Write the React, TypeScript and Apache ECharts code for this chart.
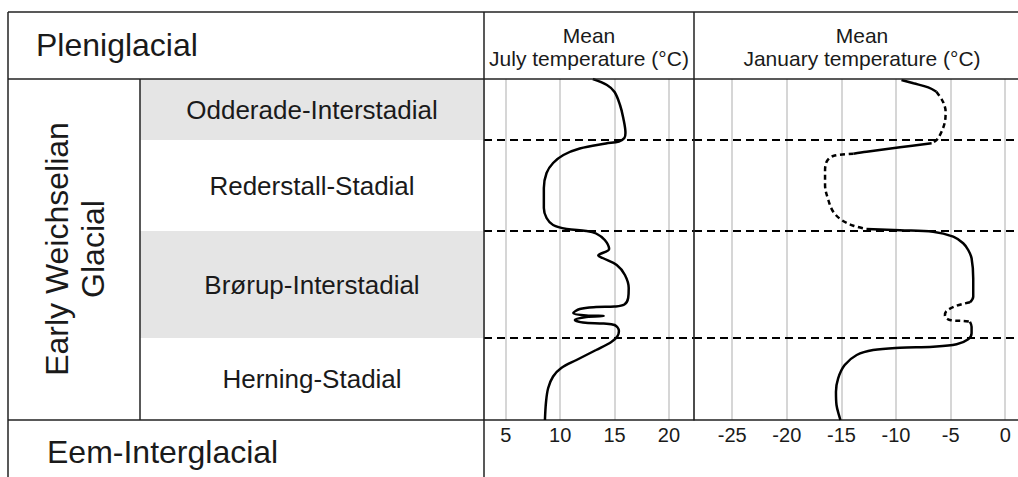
import React, { useEffect, useRef } from "react";
import * as echarts from "echarts";

const FONT = '"Liberation Sans", Arial, Helvetica, sans-serif';

// Relative stratigraphic height: 0 = base of the Early Weichselian, 341 = top
const heightRange = [0, 341];
const stageNames = ["Herning-Stadial", "Brørup-Interstadial", "Rederstall-Stadial", "Odderade-Interstadial"];
const stageBounds = [0, 82, 189, 280, 341];
const stageShaded = [false, true, false, true];
const boundaryLines = [82, 189, 280];

const periodTop = "Pleniglacial";
const periodMiddle = "Early Weichselian\nGlacial";
const periodBottom = "Eem-Interglacial";

const julyTitle = "Mean\nJuly temperature (°C)";
const januaryTitle = "Mean\nJanuary temperature (°C)";
const julyRange = [3, 22.3];
// the January panel runs past the right edge of the page
const januaryRange = [-28.5, 1.72];

// [temperature °C, relative height]
const julyCurve: [number, number][] = [
  [13.0, 341], [14.3, 335], [15.0, 328], [15.5, 315], [15.8, 302], [16.0, 287], [15.9, 282],
  [15.4, 278.5], [14.2, 276.5], [11.8, 271.5], [10.3, 265], [9.35, 257], [8.75, 247], [8.5, 232],
  [8.5, 212], [8.75, 202], [9.35, 195], [10.6, 191], [12.4, 189], [13.3, 186.5], [14.1, 180],
  [14.5, 171], [13.5, 164.5], [13.9, 162], [15.2, 155], [15.95, 145], [16.3, 132], [16.25, 122],
  [15.9, 115.5], [15.0, 113.5], [13.3, 113], [11.8, 111], [11.2, 107], [12.4, 104.5], [14.0, 104],
  [12.4, 103], [11.35, 100], [12.1, 97.5], [14.0, 96.5], [15.0, 95], [15.4, 89], [15.25, 83.5],
  [14.7, 78], [13.3, 70], [11.5, 60], [10.1, 52], [9.35, 43.5], [8.9, 32], [8.7, 18], [8.6, 0],
];

const janSolidA: [number, number][] = [[-9.5, 340], [-8.4, 336.7], [-7.05, 332.7], [-6.3, 328.3]];
const janDashedA: [number, number][] = [
  [-6.3, 328.3], [-5.7, 318.3], [-5.46, 308.3], [-5.52, 298.3], [-5.83, 288.3], [-6.28, 280], [-6.74, 276.7],
];
const janSolidB: [number, number][] = [[-6.74, 276.7], [-9.64, 272.7], [-12.7, 268.3], [-13.9, 266.3]];
const janDashedB: [number, number][] = [
  [-13.9, 266.3], [-15.75, 264], [-16.35, 258.3], [-16.5, 248.3], [-16.5, 235], [-16.2, 220],
  [-15.75, 208.3], [-14.98, 200], [-13.9, 194.3], [-12.7, 191],
];
const janSolidC: [number, number][] = [
  [-12.7, 191], [-9.64, 189.7], [-6.6, 188.3], [-4.76, 183.3], [-3.85, 176.7], [-3.39, 170],
  [-3.08, 161.7], [-2.93, 141.7], [-2.93, 123.3], [-3.23, 117.7],
];
const janDashedC: [number, number][] = [
  [-3.23, 117.7], [-4.45, 114.3], [-5.37, 109], [-5.52, 104.3], [-5.06, 100], [-3.85, 99], [-3.23, 98.3],
];
const janSolidD: [number, number][] = [
  [-3.23, 98.3], [-3.08, 93.3], [-3.08, 86.7], [-3.39, 80.7], [-4.45, 75.7], [-6.6, 73.3], [-9.64, 72.3],
  [-12.1, 70], [-13.6, 65], [-14.7, 55], [-15.3, 41.7], [-15.5, 28.3], [-15.45, 15], [-15.14, 1.7], [-15.1, 0],
];

export default function App() {
  const ref = useRef<HTMLDivElement>(null);

  useEffect(() => {
    const chart = echarts.init(ref.current!, null, { renderer: "svg" });
    const ink = "#1a1a1a";
    const frame = { stroke: "#222", lineWidth: 1.5 };

    const valueXAxis = (gridIndex: number, range: number[], splitNumber: number) => ({
      type: "value",
      gridIndex,
      min: range[0],
      max: range[1],
      splitNumber,
      axisLine: { show: true, onZero: false, lineStyle: { color: "#222", width: 1.5 } },
      axisTick: { show: false },
      axisLabel: {
        fontSize: 20,
        color: ink,
        fontFamily: FONT,
        margin: 5,
        showMinLabel: false,
        showMaxLabel: false,
      },
      splitLine: { show: true, lineStyle: { color: "#c8c8c8", width: 1.5 } },
    });
    const hiddenY = (gridIndex: number) => ({
      type: "value",
      gridIndex,
      min: heightRange[0],
      max: heightRange[1],
      show: false,
    });

    const boundaryMark = {
      silent: true,
      symbol: "none",
      label: { show: false },
      lineStyle: { color: "#000", width: 2, type: [8, 5] },
      data: boundaryLines.map((b) => ({ yAxis: b })),
    };

    const curve = (data: [number, number][], xi: number, dashed: boolean, extra: any = {}) => ({
      type: "line",
      xAxisIndex: xi,
      yAxisIndex: xi,
      data,
      showSymbol: false,
      smooth: 0.35,
      silent: true,
      lineStyle: { color: "#000", width: 2.5, type: dashed ? [5, 3.5] : "solid" },
      ...extra,
    });

    const line = (x1: number, y1: number, x2: number, y2: number) => ({
      type: "line",
      z: 100,
      shape: { x1, y1, x2, y2 },
      style: frame,
    });

    chart.setOption({
      animation: false,
      backgroundColor: "#fff",
      textStyle: { fontFamily: FONT },
      grid: [
        { left: 484, top: 79, width: 210, height: 341, containLabel: false, outerBoundsMode: "none" },
        { left: 694, top: 79, width: 330, height: 341, containLabel: false, outerBoundsMode: "none" },
        { left: 140, top: 79, width: 344, height: 341, containLabel: false, outerBoundsMode: "none" },
      ],
      xAxis: [
        valueXAxis(0, julyRange, 4),
        valueXAxis(1, januaryRange, 6),
        { type: "value", gridIndex: 2, min: 0, max: 1, show: false },
      ],
      yAxis: [hiddenY(0), hiddenY(1), hiddenY(2)],
      series: [
        {
          type: "line",
          xAxisIndex: 2,
          yAxisIndex: 2,
          data: [[0, 0], [1, 0]],
          showSymbol: false,
          silent: true,
          lineStyle: { opacity: 0, width: 0 },
          markArea: {
            silent: true,
            label: { show: true, position: "inside", fontSize: 26, color: ink, fontFamily: FONT },
            data: stageNames.map((n, i) => [
              {
                name: n,
                yAxis: stageBounds[i],
                itemStyle: { color: stageShaded[i] ? "#e5e5e5" : "rgba(255,255,255,0)" },
              },
              { yAxis: stageBounds[i + 1] },
            ]),
          },
        },
        curve(julyCurve, 0, false, { markLine: boundaryMark }),
        curve(janSolidA, 1, false, { markLine: boundaryMark }),
        curve(janDashedA, 1, true),
        curve(janSolidB, 1, false),
        curve(janDashedB, 1, true),
        curve(janSolidC, 1, false),
        curve(janDashedC, 1, true),
        curve(janSolidD, 1, false),
      ],
      graphic: [
        line(8, 12, 1018, 12),
        line(8, 79, 1018, 79),
        line(8, 12, 8, 477),
        line(140, 79, 140, 420),
        line(8, 420, 484, 420),
        line(484, 12, 484, 477),
        line(694, 12, 694, 420),
        {
          type: "text",
          x: 36,
          y: 45,
          z: 100,
          style: { text: periodTop, fontSize: 32, fontFamily: FONT, fill: ink, align: "left", verticalAlign: "middle" },
        },
        {
          type: "text",
          x: 47,
          y: 452,
          z: 100,
          style: { text: periodBottom, fontSize: 32, fontFamily: FONT, fill: ink, align: "left", verticalAlign: "middle" },
        },
        {
          type: "text",
          x: 75,
          y: 249,
          z: 100,
          rotation: Math.PI / 2,
          style: {
            text: periodMiddle,
            fontSize: 32,
            lineHeight: 36,
            fontFamily: FONT,
            fill: ink,
            align: "center",
            verticalAlign: "middle",
          },
        },
        {
          type: "text",
          x: 589,
          y: 46.5,
          z: 100,
          style: {
            text: julyTitle,
            fontSize: 21,
            lineHeight: 23,
            fontFamily: FONT,
            fill: ink,
            align: "center",
            verticalAlign: "middle",
          },
        },
        {
          type: "text",
          x: 862,
          y: 46.5,
          z: 100,
          style: {
            text: januaryTitle,
            fontSize: 21,
            lineHeight: 23,
            fontFamily: FONT,
            fill: ink,
            align: "center",
            verticalAlign: "middle",
          },
        },
      ],
    });

    return () => chart.dispose();
  }, []);

  return <div ref={ref} style={{ position: "fixed", left: 0, top: 0, width: 1018, height: 477 }} />;
}
